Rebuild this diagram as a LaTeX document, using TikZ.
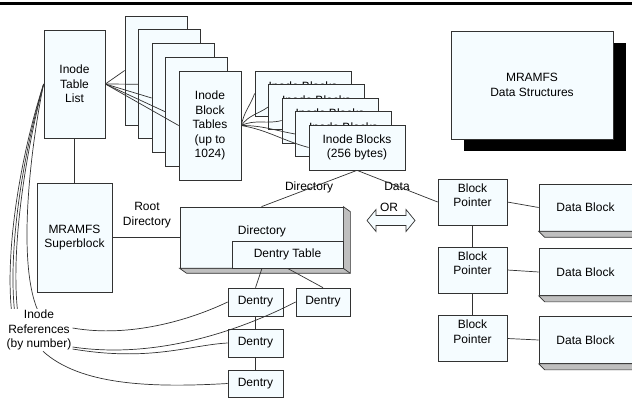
\documentclass[tikz,border=0pt]{standalone}
\usepackage{fontspec}
\setmainfont{Liberation Sans}
\usetikzlibrary{shadows}
\definecolor{boxfill}{RGB}{245,252,255}
\definecolor{linec}{RGB}{50,50,50}
\begin{document}
\begin{tikzpicture}[x=1pt,y=-1pt,
  every node/.style={font=\fontsize{12}{14.5}\selectfont, text=black},
  box/.style={draw=linec, fill=boxfill, line width=0.7pt, inner sep=0pt, align=center},
  conn/.style={draw=linec, line width=0.7pt},
  txt/.style={align=center, inner sep=0pt},
  extr/.style={draw=linec, fill=gray!50, line width=0.7pt}
]
\useasboundingbox (0,0) rectangle (632,398);
\fill[white] (0,0) rectangle (632,398);
\draw[line width=3pt] (0,4) -- (632,4);

% Inode table list
\node[box, minimum width=61pt, minimum height=108pt] (itl) at (74.5,84) {Inode\\Table\\List};

% Inode block tables (stack)
\foreach \k in {1,...,4} {
  \node[box, minimum width=62pt, minimum height=109pt] (t\k) at ({156+13.5*(\k-1)}, {70.5+13.75*(\k-1)}) {};
}
\node[box, minimum width=62pt, minimum height=109pt] (t5) at (210,125.5) {Inode\\Block\\Tables\\(up to\\1024)};
\foreach \k in {1,...,5} {
  \draw[conn] (itl.east) -- (t\k.west);
}

% Inode blocks (stack)
\foreach \k in {1,...,4} {
  \node[box, minimum width=96pt, minimum height=45pt] (b\k) at ({303+13.5*(\k-1)}, {93.5+13.5*(\k-1)}) {};
  \node[txt] (bt\k) at ([yshift=7pt]b\k.center) {Inode Blocks};
}
\node[box, minimum width=96pt, minimum height=45pt] (b5) at (357,147.5) {Inode Blocks\\(256 bytes)};
\draw[conn] (t5.east) to[out=80,in=250] (b1.west);
\draw[conn] (t5.east) to[out=55,in=215] (b2.west);
\draw[conn] (t5.east) to[out=25,in=195] (b3.west);
\draw[conn] (t5.east) to[out=0,in=170] (b4.west);
\draw[conn] (t5.east) to[out=-10,in=165] (b5.west);

% Data structures title box
\node[box, minimum width=162pt, minimum height=108pt,
  drop shadow={shadow xshift=13pt, shadow yshift=-12pt, fill=black, opacity=1}] (ds) at (532,85) {MRAMFS\\Data Structures};

% Superblock
\node[box, minimum width=75pt, minimum height=109pt] (sb) at (74.5,237.5) {MRAMFS\\Superblock};
\draw[conn] (itl.south) -- (sb.north);
\node[txt] (rootlbl) at (147,215) {Root\\Directory};

% Directory
\node[box, minimum width=163pt, minimum height=61pt] (dir) at (261.5,237.5) {};
\filldraw[extr] (dir.north east) -- ([xshift=7pt,yshift=-5pt]dir.north east) -- ([xshift=7pt,yshift=-5pt]dir.south east) -- ([xshift=7pt,yshift=-5pt]dir.south west) -- (dir.south west) -- (dir.south east) -- cycle;
\draw[conn] (dir.south east) -- ++(7,5);
\node[txt] (dirtxt) at (262,231) {Directory};
\node[box, minimum width=111pt, minimum height=27pt] (dt) at (287.5,254.5) {Dentry Table};
\draw[conn] (sb.east) -- (dir.west);

% connectors from inode blocks
\draw[conn] (b5.south) -- (dir.north);
\node[txt] (dirlbl) at (309,187) {Directory};
\node[txt] (datalbl) at (397,186) {Data};
\node[txt] (orlbl) at (389,207) {OR};
\draw[draw=linec, fill=boxfill, line width=0.7pt] (367,220.5) -- (376,209.5) -- (376,215.5) -- (406,215.5) -- (406,209.5) -- (415,220.5) -- (406,231.5) -- (406,225.5) -- (376,225.5) -- (376,231.5) -- cycle;

% Dentries
\node[box, minimum width=55pt, minimum height=28pt] (d1) at (255.5,302) {Dentry};
\node[box, minimum width=54pt, minimum height=28pt] (d2) at (323,302) {Dentry};
\node[box, minimum width=55pt, minimum height=28pt] (d3) at (255.5,343) {Dentry};
\node[box, minimum width=55pt, minimum height=27pt] (d4) at (255.5,383.5) {Dentry};
\draw[conn] ([xshift=-25.5pt]dt.south) -- (d1.north);
\draw[conn] (dt.south) -- (d2.north);
\draw[conn] (d1.south) -- (d3.north);
\draw[conn] (d3.south) -- (d4.north);

% Block pointers and data blocks
\foreach \k/\y/\dy in {1/202/207.5, 2/270/272, 3/338.5/340} {
  \node[box, minimum width=69pt, minimum height=46pt] (bp\k) at (472.5,\y) {};
  \node[txt] (bpt\k) at ([yshift=7pt]bp\k.center) {Block\\Pointer};
  \node[box, minimum width=93pt, minimum height=47pt] (db\k) at (585.5,\dy) {Data Block};
  \filldraw[extr] (db\k.south west) -- ([xshift=6pt,yshift=-6pt]db\k.south west) -- ([xshift=6pt,yshift=-6pt]db\k.south east) -- ([xshift=6pt,yshift=-6pt]db\k.north east) -- (db\k.north east) -- (db\k.south east) -- cycle;
  \draw[conn] (bp\k.east) -- (db\k.west);
}
\draw[conn] (bp1.south) -- (bp2.north);
\draw[conn] (bp2.south) -- (bp3.north);
\draw[conn] (b5.south) -- (bp1.west);

% Inode references
\draw[conn] (itl.west) .. controls (22,150) and (4,250) .. (12,315);
\draw[conn] (itl.west) .. controls (24,150) and (7,250) .. (15,315);
\draw[conn] (itl.west) .. controls (26,150) and (10,250) .. (18,315);
\draw[conn] (itl.west) .. controls (30,150) and (16,270) .. (40,315);
\node[txt, fill=white, inner sep=1pt] (refs) at (39,330) {Inode\\References\\(by number)};
\draw[conn] ([yshift=2pt]refs.east) .. controls (130,338) and (190,320) .. (d1.west);
\draw[conn] ([yshift=-17pt]refs.east) .. controls (160,360) and (245,328) .. (d2.west);
\draw[conn] ([yshift=-19pt]refs.east) .. controls (150,362) and (190,345) .. (d3.west);
\draw[conn] ([xshift=4pt]refs.south) .. controls (80,385) and (150,388) .. (d4.west);
\end{tikzpicture}
\end{document}
